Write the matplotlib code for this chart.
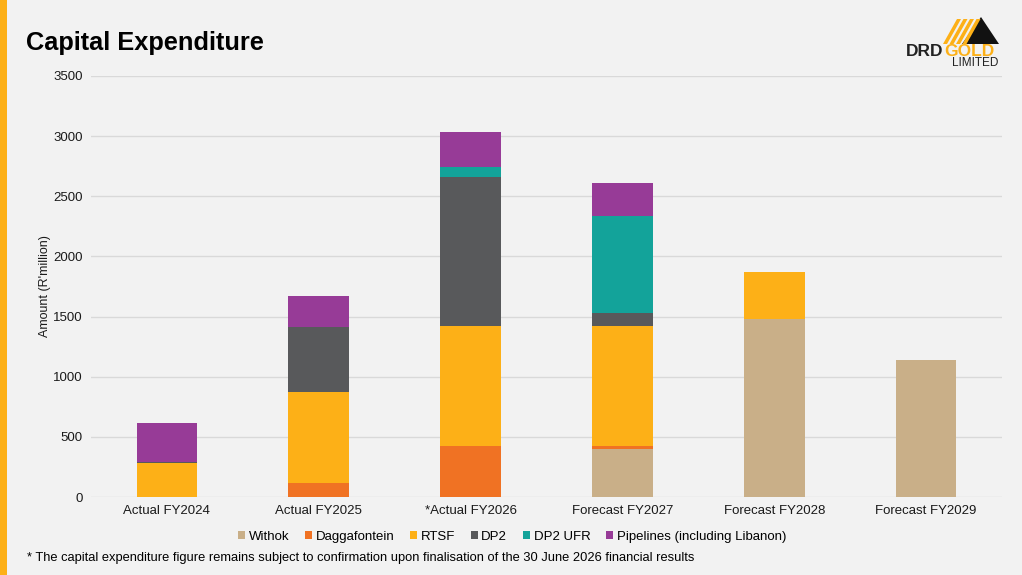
import matplotlib

matplotlib.use("Agg")
import matplotlib.pyplot as plt
import numpy as np
from matplotlib.patches import Patch, Polygon, Rectangle

plt.rcParams["font.family"] = ["Liberation Sans", "DejaVu Sans"]

CATEGORIES = [
    "Actual FY2024",
    "Actual FY2025",
    "*Actual FY2026",
    "Forecast FY2027",
    "Forecast FY2028",
    "Forecast FY2029",
]
SERIES = ["Withok", "Daggafontein", "RTSF", "DP2", "DP2 UFR", "Pipelines (including Libanon)"]

withok = [0, 0, 0, 400, 1477, 1139]
daggafontein = [0, 117, 422, 28, 0, 0]
rtsf = [285, 758, 999, 996, 396, 0]
dp2 = [6, 541, 1236, 103, 0, 0]
dp2_ufr = [0, 0, 90, 809, 0, 0]
pipelines = [321, 254, 290, 277, 0, 0]

COLORS = ["#C9AF88", "#F07223", "#FDB017", "#58595B", "#13A39A", "#973B97"]

BG = "#F2F2F2"

fig = plt.figure(figsize=(10.22, 5.75), dpi=100, facecolor=BG)
W, H = 1022, 575

# axes placed in pixel terms
ax = fig.add_axes([91 / W, 1 - 497 / H, (1002 - 91) / W, (497 - 76) / H])
ax.set_facecolor(BG)

x = np.arange(len(CATEGORIES))
bottom = np.zeros(len(CATEGORIES))
for name, vals, color in zip(SERIES, [withok, daggafontein, rtsf, dp2, dp2_ufr, pipelines], COLORS):
    vals = np.array(vals, dtype=float)
    ax.bar(x, vals, 0.4, bottom=bottom, color=color, label=name, linewidth=0, zorder=3)
    bottom += vals

ax.set_xlim(-0.5, len(CATEGORIES) - 0.5)
ax.set_ylim(0, 3500)
ax.set_yticks(np.arange(0, 3501, 500))
ax.set_xticks(x)
ax.set_xticklabels(CATEGORIES)
ax.tick_params(axis="both", length=0, labelsize=9.5, colors="#1a1a1a")
ax.tick_params(axis="y", pad=6)
ax.tick_params(axis="x", pad=6)
ax.grid(axis="y", color="#D9D9D9", linewidth=1, zorder=0)
for s in ax.spines.values():
    s.set_visible(False)
ax.set_ylabel("Amount (R'million)", fontsize=9, color="#1a1a1a")
ax.yaxis.set_label_coords((51 - 91) / (1002 - 91), 0.5)

handles = [Patch(facecolor=c, edgecolor="none") for c in COLORS]
fig.legend(
    handles,
    SERIES,
    loc="center",
    bbox_to_anchor=(512 / W, 1 - 537 / H),
    ncol=6,
    frameon=False,
    fontsize=9.5,
    handlelength=0.55,
    handleheight=0.55,
    handletextpad=0.25,
    columnspacing=1.2,
)

# title and footnote
fig.text(26 / W, 1 - 43 / H, "Capital Expenditure", fontsize=18.3, fontweight="bold", va="center", ha="left")
fig.text(
    27 / W,
    1 - 558 / H,
    "* The capital expenditure figure remains subject to confirmation upon finalisation of the 30 June 2026 financial results",
    fontsize=9.25,
    va="center",
    ha="left",
)

# left accent stripe
fig.add_artist(Rectangle((0, 0), 7 / W, 1, transform=fig.transFigure, facecolor="#FDB017", edgecolor="none"))

# logo
def px(xp, yp):
    return (xp / W, 1 - yp / H)

fig.add_artist(
    Polygon([px(962, 44), px(981, 17), px(999, 44)], closed=True, transform=fig.transFigure,
            facecolor="#111111", edgecolor="none")
)
for i in range(4):
    x0 = 943 + i * 6.5
    fig.add_artist(
        Polygon([px(x0, 44), px(x0 + 14, 19), px(x0 + 18, 19), px(x0 + 4, 44)], closed=True,
                transform=fig.transFigure, facecolor="#FDB017", edgecolor="none")
    )
fig.text(906 / W, 1 - 51 / H, "DRD", fontsize=12.5, fontweight="bold", color="#222222", va="center", ha="left")
fig.text(944 / W, 1 - 51 / H, "GOLD", fontsize=12.5, fontweight="bold", color="#FDB017", va="center", ha="left")
fig.text(998 / W, 1 - 63 / H, "LIMITED", fontsize=8.5, color="#222222", va="center", ha="right")

fig.savefig("out.png", dpi=100, facecolor=BG)
